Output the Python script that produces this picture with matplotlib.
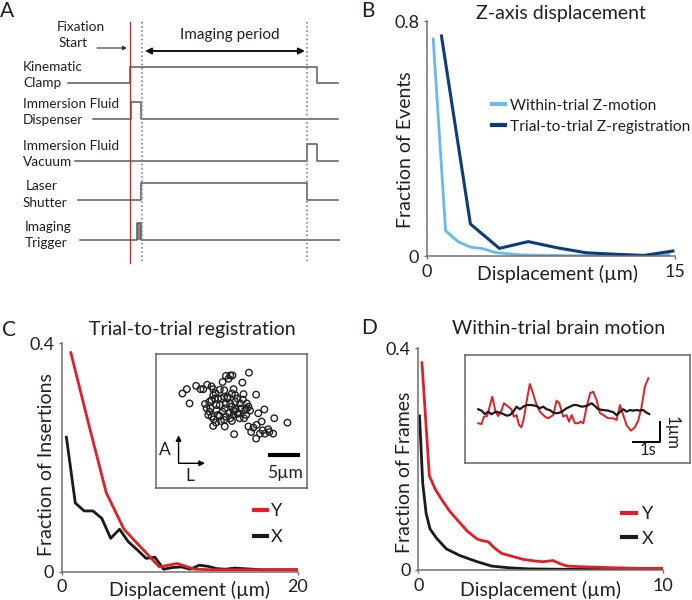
import matplotlib
matplotlib.use('Agg')
import matplotlib.pyplot as plt

FONT = ['Lato', 'DejaVu Sans']
plt.rcParams['font.family'] = FONT
TXT = '#231f20'
SPINE = '#707070'
RED = '#e31e26'
BLK = '#1a1a1a'
LBLUE = '#66bbe9'
DBLUE = '#0b3d7c'

# ---------------- Panel A: timing diagram (time in a.u.) ----------------
clamp_t = [68, 130, 317, 338]
clamp_s = [0, 1, 0, 0]
disp_t = [93, 130.7, 140.7, 338]
disp_s = [0, 1, 0, 0]
vac_t = [75, 307.3, 316.7, 338]
vac_s = [0, 1, 0, 0]
shut_t = [78, 140.7, 307.3, 338]
shut_s = [0, 1, 0, 0]
trig_t = [80, 137, 140.7, 339]
trig_s = [0, 1, 0, 0]
fixation_t = 130
imaging_t = [141.7, 306.7]

# ---------------- Panel B ----------------
zw_x = [0.375, 1.125, 1.875, 2.625, 3.375, 4.125, 4.875, 5.625, 6.375, 7.125,
        7.875, 8.625, 9.375, 10.125, 10.875, 11.625, 12.375, 13.125, 13.875, 14.625]
zw_y = [0.739, 0.086, 0.049, 0.030, 0.025, 0.012, 0.008, 0.004, 0.003, 0.002,
        0.002, 0.001, 0.001, 0.001, 0.001, 0.001, 0.001, 0.001, 0.002, 0.005]
zr_x = [0.875, 2.625, 4.375, 6.125, 7.875, 9.625, 11.375, 13.125, 14.875]
zr_y = [0.749, 0.109, 0.026, 0.049, 0.028, 0.011, 0.006, 0.002, 0.017]

# ---------------- Panel C ----------------
cy_x = [0.75, 2.25, 3.75, 5.25, 6.75, 8.25, 9.75, 11.25, 12.75, 14.25, 15.75, 17.25, 18.75, 20.25]
cy_y = [0.383, 0.259, 0.138, 0.074, 0.041, 0.008, 0.014, 0.004, 0.003, 0.003, 0.003, 0.003, 0.003, 0.003]
cx_x = [0.375, 1.125, 1.875, 2.625, 3.375, 4.125, 4.875, 5.625, 6.375, 7.125,
        7.875, 8.625, 9.375, 10.125, 10.875, 11.625, 12.375, 13.125, 13.875, 14.625,
        15.375, 16.125, 16.875, 17.625, 18.375, 19.125, 19.875]
cx_y = [0.235, 0.120, 0.106, 0.106, 0.093, 0.058, 0.074, 0.052, 0.038, 0.023,
        0.025, 0.004, 0.007, 0.008, 0.004, 0.011, 0.009, 0.005, 0.004, 0.006,
        0.005, 0.004, 0.003, 0.003, 0.003, 0.003, 0.003]
# inset scatter (um)
ins_x = [4.8, 5.6, 6.1, 7.3, 8.1, 8.6, 9.3, 10.1, 10.4, 10.8, 10.4, 11.6, 12.1, 12.7, 13.2,
         13.5, 13.9, 16.9, 15.7, 14.1, 14.4, 13.0, 12.4, 11.3, 10.7, 10.1, 9.7, 8.9, 9.2, 9.7,
         9.5, 10.1, 10.5, 10.4, 10.9, 11.6, 12.1, 12.5, 12.7, 13.5, 13.8, 14.1, 14.5, 15.0, 15.3,
         15.8, 15.9, 16.5, 16.8, 17.1, 16.4, 16.0, 15.2, 14.8, 14.1, 13.5, 13.8, 12.7, 12.4, 12.5,
         11.8, 11.3, 11.0, 11.6, 13.3, 18.2, 18.6, 19.7, 19.2, 18.3, 17.7, 17.3, 18.2, 18.9, 19.4,
         19.8, 20.4, 20.6, 21.3, 21.5, 23.9, 14.2, 16.8, 16.5, 15.4, 14.4, 13.0, 11.9, 12.4, 13.8,
         14.8, 16.2, 11.0, 9.9]
ins_y = [17.2, 18.0, 15.4, 18.6, 18.0, 18.0, 18.8, 18.5, 18.0, 17.3, 16.9, 17.9, 19.3, 20.4, 19.9,
         20.5, 20.5, 21.0, 19.2, 18.0, 16.9, 16.6, 16.6, 16.3, 16.3, 16.0, 15.7, 15.3, 14.5, 13.9,
         13.3, 13.0, 12.5, 11.3, 11.9, 13.1, 13.9, 14.5, 15.3, 15.4, 14.8, 14.1, 14.3, 13.6, 15.4,
         16.1, 17.1, 15.4, 14.8, 14.1, 13.3, 12.7, 12.7, 13.5, 13.3, 12.7, 12.2, 13.0, 12.4, 11.2,
         12.2, 13.3, 14.2, 15.1, 13.6, 17.0, 13.6, 14.3, 12.1, 11.5, 11.0, 10.2, 9.0, 9.9, 10.5,
         9.9, 10.7, 10.2, 9.9, 12.7, 11.9, 9.8, 11.2, 14.5, 14.5, 15.7, 16.3, 16.3, 17.8, 17.2,
         16.3, 14.2, 15.1, 14.5]

# ---------------- Panel D ----------------
dy_x = [0.15, 0.45, 0.7, 1.0, 1.3, 1.6, 2.0, 2.4, 2.6, 2.85, 3.1, 3.4, 3.8, 4.3, 4.8, 5.1,
        5.5, 5.8, 6.1, 6.6, 7.3, 8.0, 9.0, 10.0]
dy_y = [0.374, 0.170, 0.145, 0.124, 0.105, 0.090, 0.070, 0.056, 0.053, 0.051, 0.040, 0.030,
        0.025, 0.019, 0.016, 0.015, 0.017, 0.011, 0.007, 0.006, 0.005, 0.004, 0.003, 0.003]
dx_x = [0.05, 0.18, 0.32, 0.48, 0.75, 1.15, 1.7, 2.4, 3.0, 3.7, 4.5, 5.5, 7.0, 8.5, 10.0]
dx_y = [0.278, 0.157, 0.102, 0.074, 0.057, 0.038, 0.026, 0.015, 0.007, 0.004, 0.002,
        0.0015, 0.001, 0.001, 0.001]
# inset traces (s, um)
tr_red_t = [0, 0.12, 0.21, 0.33, 0.52, 0.64, 0.74, 0.86, 0.95, 1.11, 1.23, 1.32, 1.42, 1.51,
            1.60, 1.69, 1.79, 1.91, 2.01, 2.14, 2.28, 2.47, 2.59, 2.78, 2.90, 3.0, 3.15, 3.27,
            3.36, 3.46, 3.58, 3.70, 3.79, 3.89, 3.99, 4.14, 4.26, 4.38, 4.51, 4.63, 4.81, 5.0,
            5.12, 5.25, 5.37, 5.49, 5.65, 5.80, 5.93, 6.05, 6.17, 6.30]
tr_red_y = [-0.33, -0.37, 0, 0.03, 1.0, 0.25, 0.03, 0.3, 0.67, 0.5, 0.37, 0, 0.08, -0.42,
            -0.53, -0.08, 0.75, 1.63, 1.25, 0.67, 0.25, 0, -0.08, 0.08, 0.8, 0.67, 0, 0.08,
            -0.25, 0.08, -0.33, -0.33, -0.25, -0.33, 0.33, 1.17, 1.25, 0.83, 0.17, 0.08, -0.08, -0.08,
            -0.17, 0.58, 0.08, -0.42, -0.7, -0.53, -0.17, 0.5, 1.5, 1.92]
tr_blk_t = [0, 0.12, 0.25, 0.37, 0.49, 0.65, 0.80, 0.93, 1.05, 1.17, 1.30, 1.42, 1.54, 1.67,
            1.79, 1.98, 2.16, 2.28, 2.41, 2.53, 2.65, 2.78, 2.90, 3.02, 3.15, 3.27, 3.40, 3.52,
            3.64, 3.83, 4.01, 4.20, 4.32, 4.44, 4.63, 4.81, 5.0, 5.12, 5.22, 5.37, 5.49, 5.62,
            5.74, 5.86, 5.99, 6.11, 6.23, 6.33]
tr_blk_y = [0.37, 0.3, 0.13, 0.25, 0.12, 0.25, 0.2, 0.13, 0.05, 0.08, 0.25, 0.5, 0.37, 0.5,
            0.58, 0.58, 0.53, 0.42, 0.5, 0.37, 0.33, 0.2, 0.17, 0.2, 0.3, 0.42, 0.5, 0.58,
            0.58, 0.5, 0.53, 0.67, 0.53, 0.37, 0.33, 0.3, 0.22, 0.08, 0.2, 0.37, 0.25, 0.33,
            0.3, 0.33, 0.3, 0.33, 0.2, 0.13]

W, H = 692, 600
fig = plt.figure(figsize=(6.92, 6.0), dpi=100)

LABEL_FS = 14
TICK_FS = 13


def fx(px):
    return px / W


def fy(py):
    return 1 - py / H


def add_ax(x0, y0, x1, y1):
    return fig.add_axes([fx(x0), fy(y1), (x1 - x0) / W, (y1 - y0) / H])


def ftext(px, py, s, **kw):
    kw.setdefault('color', TXT)
    kw.setdefault('ha', 'center')
    kw.setdefault('va', 'center')
    fig.text(fx(px), fy(py), s, **kw)


def style(ax, xmax, ymax, ylbl):
    for sp in ['top', 'right']:
        ax.spines[sp].set_visible(False)
    for sp in ['left', 'bottom']:
        ax.spines[sp].set_color(SPINE)
        ax.spines[sp].set_linewidth(1.1)
    ax.set_xlim(0, xmax)
    ax.set_ylim(0, ymax)
    ax.set_xticks([0, xmax])
    ax.set_xticklabels(['0', str(xmax)])
    ax.set_yticks([0, ymax])
    ax.set_yticklabels(['0', ylbl])
    ax.tick_params(length=2, width=1, color=SPINE, labelsize=TICK_FS, pad=3.5, labelcolor=TXT)


def legend_at(ax, handles, labels, x, y, fs, hl, tp, ls):
    leg = ax.legend(handles, labels, loc='center left', bbox_to_anchor=(x, y), frameon=False,
                    fontsize=fs, handlelength=hl, handletextpad=tp, labelspacing=ls,
                    borderpad=0, borderaxespad=0)
    for t in leg.get_texts():
        t.set_color(TXT)
    for h in leg.get_lines():
        h.set_linewidth(3)
    return leg


# ---------------- Panel A ----------------
axA = add_ax(0, 0, 346, 300)
axA.set_xlim(0, 346)
axA.set_ylim(300, 0)
axA.axis('off')
amp = 16.6
sigcol = '#5a5a5a'
rows = [(clamp_t, clamp_s, 83.3), (disp_t, disp_s, 119), (vac_t, vac_s, 161),
        (shut_t, shut_s, 200), (trig_t, trig_s, 240)]
for t, s, base in rows:
    axA.plot(t, [base - amp * v for v in s], drawstyle='steps-post', color=sigcol, lw=1.1)
axA.fill_between(trig_t[1:3], 240, 240 - amp, color='#888888', lw=0)
axA.plot([fixation_t, fixation_t], [22, 263], color='#d7262e', lw=1.0)
for t in imaging_t:
    axA.plot([t, t], [22, 263], color='#888888', lw=1.2, ls=(0, (1, 1.5)))
A_FS = 9.8
labels = [(23, 67, 'Kinematic'), (23, 83, 'Clamp'), (23, 104, 'Immersion Fluid'),
          (23, 120, 'Dispenser'), (23, 146, 'Immersion Fluid'), (23, 162, 'Vacuum'),
          (26, 186, 'Laser'), (23, 203, 'Shutter'), (25, 227, 'Imaging'), (25, 243, 'Trigger')]
for x, y, s in labels:
    axA.text(x, y, s, ha='left', va='center', fontsize=A_FS, color=TXT)
axA.text(57, 27, 'Fixation', ha='left', va='center', fontsize=A_FS, color=TXT)
axA.text(59, 43, 'Start', ha='left', va='center', fontsize=A_FS, color=TXT)
axA.annotate('', xy=(127, 48), xytext=(97, 48),
             arrowprops=dict(arrowstyle='-|>', color='#333333', lw=0.8, mutation_scale=6,
                             shrinkA=0, shrinkB=0))
axA.text(230, 35, 'Imaging period', ha='center', va='center', fontsize=11, color=TXT)
axA.annotate('', xy=(305, 51), xytext=(145, 51),
             arrowprops=dict(arrowstyle='<|-|>', color='#111111', lw=1.4, mutation_scale=9,
                             shrinkA=0, shrinkB=0))

# ---------------- Panel B ----------------
axB = add_ax(427, 21, 675, 256)
axB.plot(zw_x, zw_y, color=LBLUE, lw=2.0, label='Within-trial Z-motion')
axB.plot(zr_x, zr_y, color=DBLUE, lw=2.2, label='Trial-to-trial Z-registration')
style(axB, 15, 0.8, '0.8')
axB.set_xlabel('Displacement (\u00b5m)', fontsize=LABEL_FS, color=TXT, va='center')
axB.xaxis.set_label_coords(0.526, -0.077)
axB.set_ylabel('Fraction of Events', fontsize=LABEL_FS, color=TXT, va='center')
axB.yaxis.set_label_coords(-0.085, 0.451)
hB, lB = axB.get_legend_handles_labels()
legend_at(axB, hB, lB, 0.262, 0.594, 11.2, 0.83, 0.32, 0.45)

# ---------------- Panel C ----------------
axC = add_ax(62, 343, 298, 571.5)
axC.plot(cx_x, cx_y, color=BLK, lw=2.0, label='X')
axC.plot(cy_x, cy_y, color=RED, lw=2.0, label='Y')
style(axC, 20, 0.4, '0.4')
axC.set_xlabel('Displacement (\u00b5m)', fontsize=LABEL_FS, color=TXT, va='center')
axC.xaxis.set_label_coords(0.54, -0.083)
axC.set_ylabel('Fraction of Insertions', fontsize=LABEL_FS, color=TXT, va='center')
axC.yaxis.set_label_coords(-0.064, 0.47)
hC, lC = axC.get_legend_handles_labels()
legend_at(axC, hC[::-1], lC[::-1], 0.815, 0.208, 13, 0.68, 0.25, 0.55)

axCi = add_ax(156, 354, 307, 488)
axCi.scatter(ins_x, ins_y, s=22, facecolors='none', edgecolors='#222222', linewidths=1.0)
axCi.set_xlim(0, 27.45)
axCi.set_ylim(0, 24.4)
axCi.set_xticks([])
axCi.set_yticks([])
for sp in axCi.spines.values():
    sp.set_color('#666666')
    sp.set_linewidth(1.1)
axCi.plot([20.8, 25.9], [6.0, 6.0], color='black', lw=3)
axCi.text(23.5, 2.7, '5\u00b5m', ha='center', va='center', fontsize=12.5, color=TXT)
axCi.annotate('', xy=(4.1, 9.6), xytext=(4.1, 4.5),
              arrowprops=dict(arrowstyle='-|>', color='black', lw=1, mutation_scale=8,
                              shrinkA=0, shrinkB=0))
axCi.annotate('', xy=(8.9, 4.5), xytext=(4.1, 4.5),
              arrowprops=dict(arrowstyle='-|>', color='black', lw=1, mutation_scale=8,
                              shrinkA=0, shrinkB=0))
axCi.text(1.6, 6.9, 'A', ha='center', va='center', fontsize=12.5, color=TXT)
axCi.text(6.1, 2.1, 'L', ha='center', va='center', fontsize=12.5, color=TXT)

# ---------------- Panel D ----------------
axD = add_ax(418.3, 348.3, 663.3, 570)
axD.plot(dx_x, dx_y, color=BLK, lw=2.0, label='X')
axD.plot(dy_x, dy_y, color=RED, lw=2.0, label='Y')
style(axD, 10, 0.4, '0.4')
axD.set_xlabel('Displacement (\u00b5m)', fontsize=LABEL_FS, color=TXT, va='center')
axD.xaxis.set_label_coords(0.5, -0.088)
axD.set_ylabel('Fraction of Frames', fontsize=LABEL_FS, color=TXT, va='center')
axD.yaxis.set_label_coords(-0.058, 0.442)
hD, lD = axD.get_legend_handles_labels()
legend_at(axD, hD[::-1], lD[::-1], 0.83, 0.196, 13, 0.78, 0.33, 0.45)

axDi = add_ax(465, 355, 690, 463.3)
axDi.plot(tr_red_t, tr_red_y, color=RED, lw=1.4)
axDi.plot(tr_blk_t, tr_blk_y, color=BLK, lw=1.6)
axDi.set_xlim(-0.49, 7.84)
axDi.set_ylim(-2.33, 3.08)
axDi.set_xticks([])
axDi.set_yticks([])
for sp in axDi.spines.values():
    sp.set_color('#666666')
    sp.set_linewidth(1.1)
axDi.plot([5.72, 6.73, 6.73], [-1.25, -1.25, -0.25], color='black', lw=1.4)
axDi.text(6.3, -1.67, '1s', ha='center', va='center', fontsize=12, color=TXT)
axDi.text(7.16, -0.83, '1\u00b5m', ha='center', va='center', fontsize=12, color=TXT, rotation=-90)

# ---------------- titles & panel letters ----------------
ftext(561, 13, 'Z-axis displacement', fontsize=14)
ftext(192, 329, 'Trial-to-trial registration', fontsize=14)
ftext(559, 328, 'Within-trial brain motion', fontsize=14)
ftext(7, 11, 'A', fontsize=15)
ftext(368, 11, 'B', fontsize=15)
ftext(9, 330, 'C', fontsize=15)
ftext(369, 328, 'D', fontsize=15)

fig.savefig('out.png', dpi=100)
